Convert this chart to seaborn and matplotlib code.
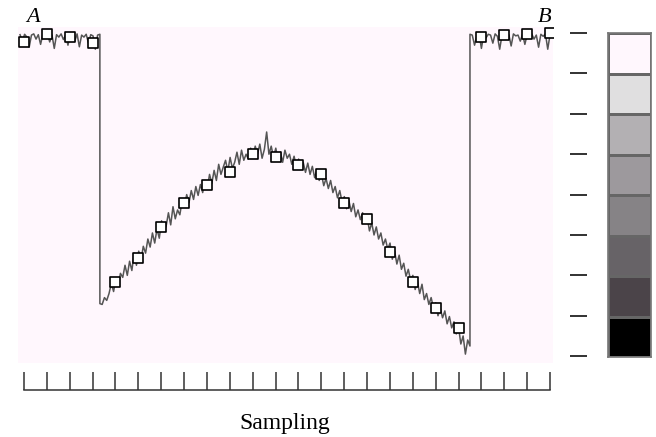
import numpy as np
import matplotlib
matplotlib.use("Agg")
import matplotlib.pyplot as plt
import seaborn as sns
from matplotlib.colors import ListedColormap

# one square marker per sampling step
sample_idx = list(range(24))
sample_val = [7.78, 7.98, 7.90, 7.75,
              1.83, 2.43, 3.20, 3.79, 4.24, 4.56, 5.00, 4.93, 4.73, 4.51,
              3.79, 3.39, 2.58, 1.83, 1.19, 0.69,
              7.90, 7.95, 7.98, 8.00]

drop_at, rise_at = 3.32, 19.50
left_trace = [7.96, 7.80, 7.97, 7.90, 7.65, 7.95, 7.98, 7.85, 7.96, 7.72,
              7.97, 7.93, 7.98, 7.78, 7.95, 7.62, 7.96, 7.90, 7.98, 7.84,
              7.95, 7.70, 7.97, 7.92, 7.80, 7.98, 7.66, 7.95, 7.90, 7.97,
              7.75, 7.96, 7.93, 7.60, 7.95, 7.97]
mid_trace = [1.30, 1.28, 1.45, 1.38, 1.55, 1.80, 1.60, 1.92, 1.75, 2.05,
             1.95, 2.25, 2.00, 2.35, 2.12, 2.55, 2.25, 2.60, 2.38, 2.72,
             2.55, 2.90, 2.70, 3.05, 2.80, 3.15, 2.92, 3.35, 3.10, 3.22,
             3.55, 3.25, 3.70, 3.40, 3.62, 3.50, 3.85, 3.72, 4.00, 3.80,
             4.10, 3.88, 4.20, 3.98, 4.25, 4.05, 4.35, 4.15, 4.50, 4.28,
             4.60, 4.35, 4.75, 4.50, 4.68, 4.85, 4.58, 4.92, 4.65, 4.80,
             5.05, 4.75, 5.10, 4.85, 5.00, 4.88, 5.15, 4.95, 5.20, 5.00,
             5.25, 4.90, 5.12, 5.55, 5.00, 5.20, 4.92, 5.15, 4.85, 5.05,
             4.80, 5.10, 4.90, 5.00, 4.75, 4.95, 4.70, 4.88, 4.62, 4.80,
             4.55, 4.78, 4.50, 4.70, 4.42, 4.62, 4.35, 4.50, 4.22, 4.40,
             4.15, 4.35, 4.05, 4.20, 3.92, 4.10, 3.82, 3.95, 3.65, 3.85,
             3.58, 3.78, 3.45, 3.62, 3.38, 3.55, 3.30, 3.45, 3.10, 3.30,
             3.00, 3.20, 2.90, 3.05, 2.75, 2.90, 2.65, 2.80, 2.40, 2.60,
             2.28, 2.50, 2.15, 2.30, 1.98, 2.15, 1.88, 2.00, 1.65, 1.85,
             1.55, 1.78, 1.40, 1.55, 1.28, 1.45, 1.20, 1.32, 1.00, 1.18,
             0.95, 1.12, 0.80, 0.98, 0.70, 0.85, 0.55, 0.72, 0.30, 0.50,
             0.05, 0.40, 0.25]
right_trace = [7.97, 7.95, 7.70, 7.93, 7.98, 7.62, 7.96, 7.88, 7.97, 7.95,
               7.75, 7.98, 7.92, 7.60, 7.95, 7.97, 7.85, 7.96, 7.68, 7.98,
               7.93, 7.95, 7.80, 7.97, 7.72, 7.96, 7.90, 7.98, 7.85, 7.95,
               7.65, 7.97, 7.92, 7.98, 7.60, 7.96, 8.00]

level_ticks = list(range(9))
level_colors = ["#fff7fd", "#e0dfe0", "#b3b0b3", "#9d999d",
                "#868386", "#676367", "#4b4449", "#000000"]

trace_x = np.concatenate([np.linspace(-0.17, drop_at, len(left_trace)),
                          np.linspace(drop_at, rise_at, len(mid_trace)),
                          np.linspace(rise_at, 23.1, len(right_trace))])
trace_y = np.array(left_trace + mid_trace + right_trace)

W, H = 656, 437
fig = plt.figure(figsize=(W / 100, H / 100), dpi=100)

main_box = [18 / W, 1 - 363 / H, 535 / W, 336 / H]
ax = fig.add_axes(main_box)
ax.set_facecolor("#fff7fd")
sns.lineplot(x=trace_x, y=trace_y, sort=False, estimator=None, ax=ax,
             color="#555555", lw=1.1)
sns.scatterplot(x=sample_idx, y=sample_val, marker="s", s=45, color="white",
                edgecolor="black", linewidth=1.2, ax=ax, zorder=3)
ax.set_xlim(-0.26, 23.13)
ax.set_ylim(-0.17, 8.15)
ax.set_xticks([])
ax.set_yticks([])
ax.set_xlabel("")
ax.set_ylabel("")
for s in ax.spines.values():
    s.set_visible(False)

# bottom sampling axis
axb = fig.add_axes([24 / W, 1 - 390 / H, 526 / W, 0.03])
axb.set_facecolor("none")
axb.set_xlim(0, 23)
axb.set_xticks(sample_idx)
axb.set_xticklabels([])
axb.set_yticks([])
axb.tick_params(axis="x", direction="in", length=13, width=1.1, color="#333333")
for k, s in axb.spines.items():
    s.set_visible(k == "bottom")
axb.spines["bottom"].set_color("#333333")
axb.spines["bottom"].set_linewidth(1.1)

fig.text(285 / W, 1 - 423 / H, "Sampling", ha="center", va="center",
         fontsize=17, family="Liberation Serif")
fig.text(33 / W, 1 - 17 / H, "A", ha="center", va="center", fontsize=16,
         family="Liberation Serif", style="italic")
fig.text(545 / W, 1 - 17 / H, "B", ha="center", va="center", fontsize=16,
         family="Liberation Serif", style="italic")

# level ticks on the right
axr = fig.add_axes([587 / W, main_box[1], 0.001, main_box[3]])
axr.set_facecolor("none")
axr.set_ylim(ax.get_ylim())
axr.set_yticks(level_ticks)
axr.set_yticklabels([])
axr.set_xticks([])
axr.tick_params(axis="y", direction="out", length=12.2, width=1.3, color="#222222")
for s in axr.spines.values():
    s.set_visible(False)

# grey level scale
axc = fig.add_axes([608 / W, 1 - 357 / H, 43 / W, 324 / H])
sns.heatmap(np.arange(len(level_colors)).reshape(-1, 1),
            cmap=ListedColormap(level_colors), cbar=False, linewidths=0.8,
            linecolor="#666666", xticklabels=False, yticklabels=False, ax=axc)
for s in axc.spines.values():
    s.set_visible(True)
    s.set_color("#777777")
    s.set_linewidth(1.2)

fig.savefig("out.png", dpi=100)
